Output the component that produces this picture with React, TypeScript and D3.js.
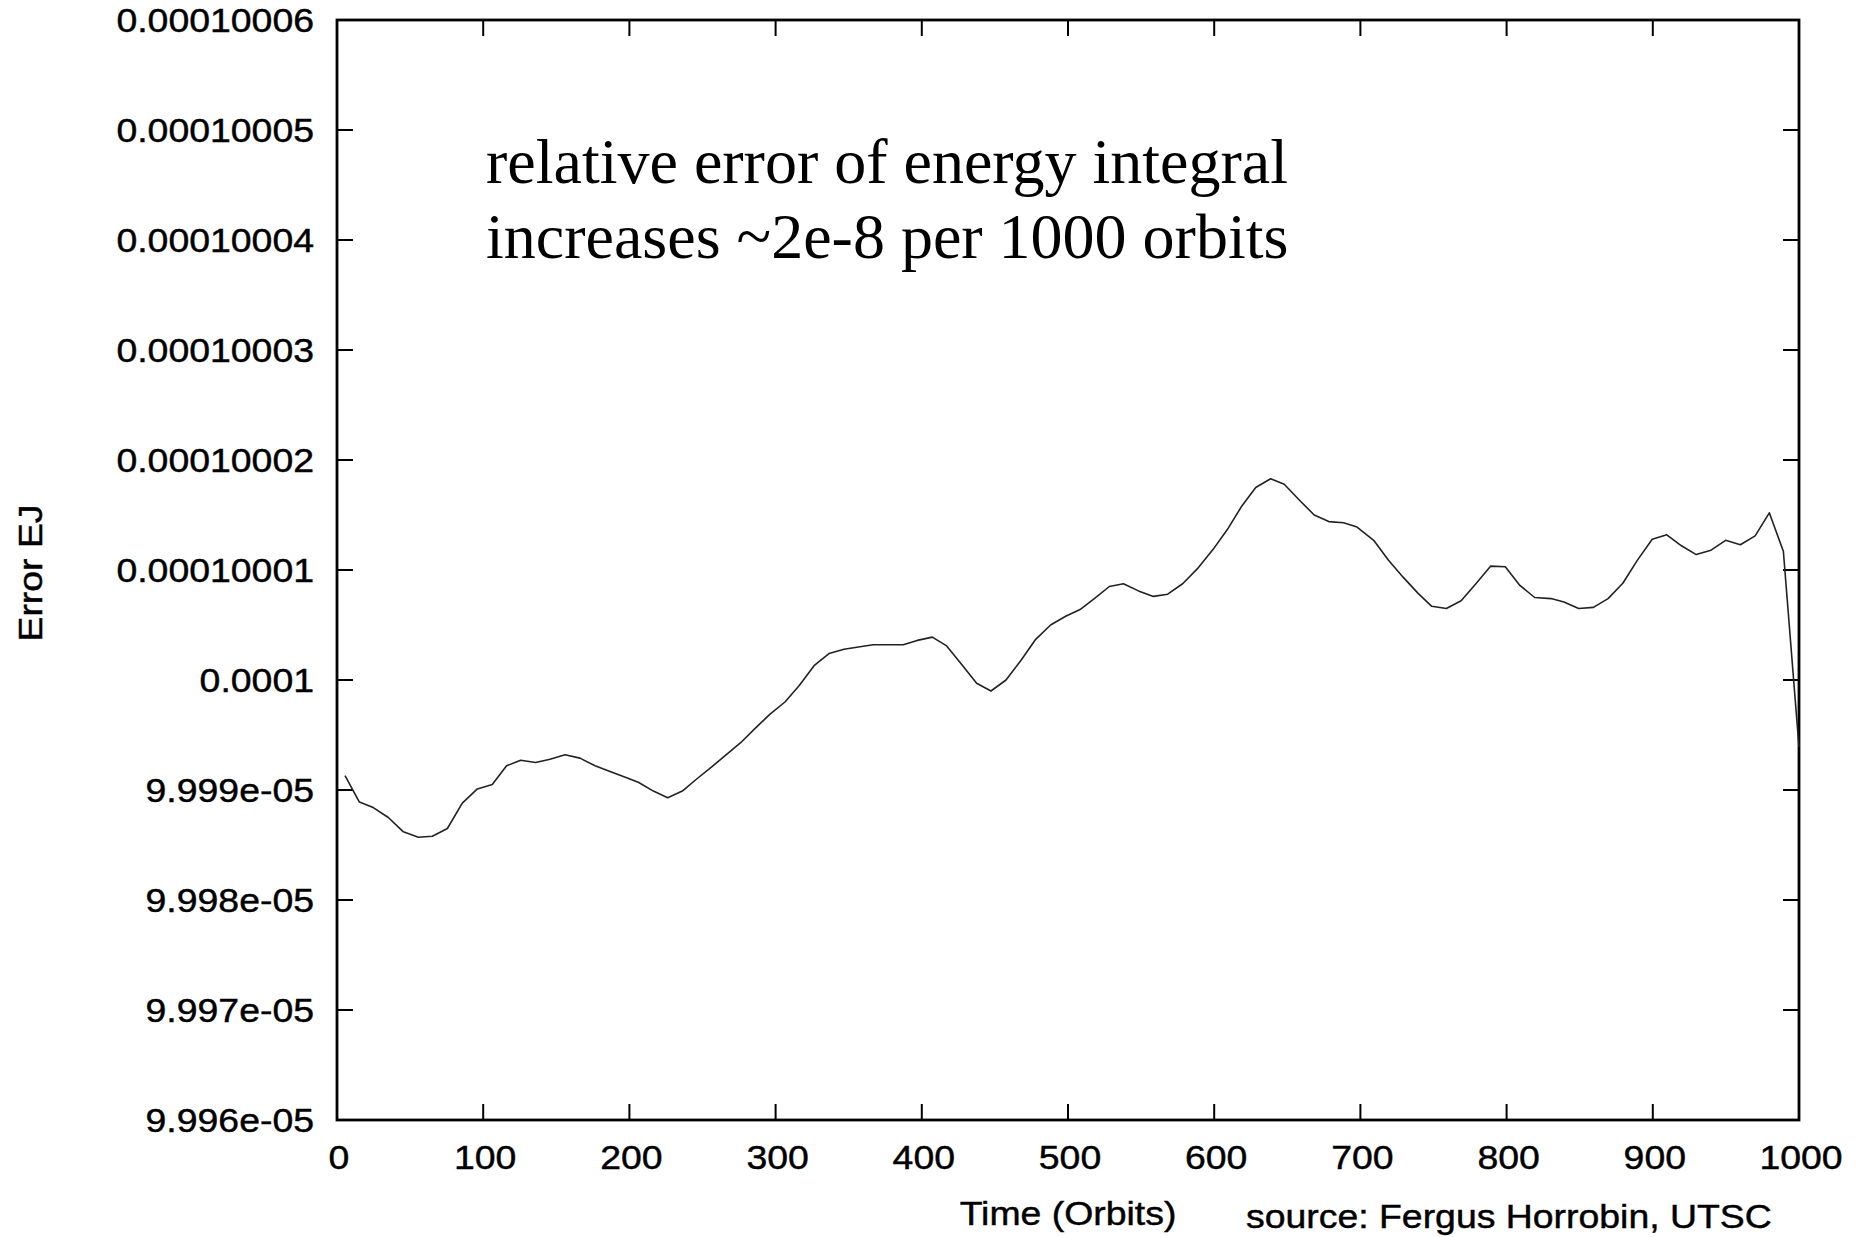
import React from "react";
import * as d3 from "d3";

const times = [
  5.5, 15.3, 24.8, 35.1, 45.4, 55.6, 65.2, 75.5, 85.7, 96,
  106.2, 116, 125.6, 135.9, 145.7, 156, 166.2, 176.5, 186.3, 196.3,
  206.1, 216.4, 226.2, 236.2, 246, 256.3, 266.1, 276.1, 286, 296.2,
  306.4, 316.2, 326.3, 336.5, 346.8, 356.6, 366.8, 377, 387.3, 396.9,
  407.2, 417, 427.3, 437.5, 447.3, 457.6, 467.9, 477.9, 488.1, 498.4,
  508.2, 518, 528.3, 537.9, 548.2, 558.4, 568.2, 578.4, 588.4, 599.4,
  609.6, 618.8, 628.4, 638.6, 647.9, 658.7, 668.4, 678.4, 688.5, 697.7,
  709.1, 719.1, 729.2, 739.3, 748.8, 758.8, 768.9, 779, 789, 799.1,
  809.1, 819.2, 830.4, 839.2, 849.3, 859.4, 869.4, 879.5, 889.5, 899.6,
  909.6, 919.6, 929.7, 939.8, 949.8, 959.9, 970, 979.7, 989.3, 1000,
];

const errorEJ = [
  9.99913e-5, 9.99889e-5, 9.99884e-5, 9.99875e-5, 9.99862e-5, 9.99857e-5, 9.99858e-5, 9.99865e-5, 9.99888e-5, 9.99901e-5,
  9.99905e-5, 9.99922e-5, 9.99927e-5, 9.99925e-5, 9.99928e-5, 9.99932e-5, 9.99929e-5, 9.99922e-5, 9.99917e-5, 9.99912e-5,
  9.99907e-5, 9.99899e-5, 9.99893e-5, 9.99899e-5, 9.9991e-5, 9.99921e-5, 9.99932e-5, 9.99943e-5, 9.99956e-5, 9.99969e-5,
  9.9998e-5, 9.99995e-5, 1.000013e-4, 1.000024e-4, 1.000028e-4, 1.00003e-4, 1.000032e-4, 1.000032e-4, 1.000032e-4, 1.000036e-4,
  1.000039e-4, 1.000031e-4, 1.000014e-4, 9.99997e-5, 9.9999e-5, 1.0e-4, 1.000018e-4, 1.000037e-4, 1.00005e-4, 1.000058e-4,
  1.000064e-4, 1.000074e-4, 1.000085e-4, 1.0000875e-4, 1.000081e-4, 1.000076e-4, 1.000078e-4, 1.0000875e-4, 1.000101e-4, 1.000119e-4,
  1.000138e-4, 1.000158e-4, 1.000175e-4, 1.000183e-4, 1.000178e-4, 1.000163e-4, 1.00015e-4, 1.000144e-4, 1.000143e-4, 1.000139e-4,
  1.000127e-4, 1.000109e-4, 1.0000935e-4, 1.000079e-4, 1.000067e-4, 1.000065e-4, 1.000072e-4, 1.0000875e-4, 1.0001035e-4, 1.000103e-4,
  1.000086e-4, 1.000075e-4, 1.000074e-4, 1.000071e-4, 1.000065e-4, 1.000066e-4, 1.000074e-4, 1.000088e-4, 1.000109e-4, 1.000128e-4,
  1.000132e-4, 1.000122e-4, 1.000114e-4, 1.000118e-4, 1.000127e-4, 1.000123e-4, 1.000131e-4, 1.000152e-4, 1.000117e-4, 9.99939e-5,
];

const xTicks = [0, 100, 200, 300, 400, 500, 600, 700, 800, 900, 1000];
const yTicks = [9.996e-5, 9.997e-5, 9.998e-5, 9.999e-5, 1e-4, 1.0001e-4, 1.0002e-4, 1.0003e-4, 1.0004e-4, 1.0005e-4, 1.0006e-4];
const yTickLabels = [
  "9.996e-05", "9.997e-05", "9.998e-05", "9.999e-05", "0.0001",
  "0.00010001", "0.00010002", "0.00010003", "0.00010004", "0.00010005", "0.00010006",
];
const xLabel = "Time (Orbits)";
const yLabel = "Error EJ";
const sourceText = "source: Fergus Horrobin, UTSC";
const noteLines = ["relative error of energy integral", "increases ~2e-8 per 1000 orbits"];

const W = 1856;
const H = 1237;
const L = 337, R = 1799, T = 20, B = 1120;
const SANS = "'Liberation Sans', Arial, Helvetica, sans-serif";
const SERIF = "'Liberation Serif', 'Times New Roman', serif";
const FS = 34;
const SX = 1.1;
const TICK = 16;
const textStyle = { fontFamily: SANS, fontSize: FS, fill: "#000", stroke: "#000", strokeWidth: 0.45 };

export default function App() {
  const x = d3.scaleLinear().domain([0, 1000]).range([L, R]);
  const y = d3.scaleLinear().domain([9.996e-5, 1.0006e-4]).range([B, T]);
  const pts = times.map((t, i) => [t, errorEJ[i]] as [number, number]);
  const line = d3.line<[number, number]>().x((d) => x(d[0])).y((d) => y(d[1]));

  return (
    <svg width={W} height={H} style={{ position: "absolute", left: 0, top: 0, background: "#fff" }}>
      <rect x={0} y={0} width={W} height={H} fill="#fff" />
      {xTicks.map((t) => (
        <g key={"xt" + t}>
          <line x1={x(t)} x2={x(t)} y1={B} y2={B - TICK} stroke="#000" strokeWidth={2} />
          <line x1={x(t)} x2={x(t)} y1={T} y2={T + TICK} stroke="#000" strokeWidth={2} />
          <text transform={`translate(${x(t) + 2},${B + 49}) scale(${SX},1)`} textAnchor="middle" style={textStyle}>
            {t}
          </text>
        </g>
      ))}
      {yTicks.map((v, i) => (
        <g key={"yt" + i}>
          <line x1={L} x2={L + TICK} y1={y(v)} y2={y(v)} stroke="#000" strokeWidth={2} />
          <line x1={R} x2={R - TICK} y1={y(v)} y2={y(v)} stroke="#000" strokeWidth={2} />
          <text transform={`translate(${L - 23},${y(v) + 12}) scale(${SX},1)`} textAnchor="end" style={textStyle}>
            {yTickLabels[i]}
          </text>
        </g>
      ))}
      <rect x={L} y={T} width={R - L} height={B - T} fill="none" stroke="#000" strokeWidth={2.8} />
      <path d={line(pts) || ""} fill="none" stroke="#222" strokeWidth={1.6} strokeLinejoin="round" />
      <text transform={`translate(${(L + R) / 2},1225) scale(${SX},1)`} textAnchor="middle" style={textStyle}>
        {xLabel}
      </text>
      <text transform={`translate(42,573) rotate(-90) scale(${SX},1)`} textAnchor="middle" style={textStyle}>
        {yLabel}
      </text>
      <text transform={`translate(1246,1228) scale(${SX},1)`} textAnchor="start" style={textStyle}>
        {sourceText}
      </text>
      {noteLines.map((s, i) => (
        <text key={"n" + i} x={486} y={183 + i * 75} fontFamily={SERIF} fontSize={64} fill="#000">
          {s}
        </text>
      ))}
    </svg>
  );
}
